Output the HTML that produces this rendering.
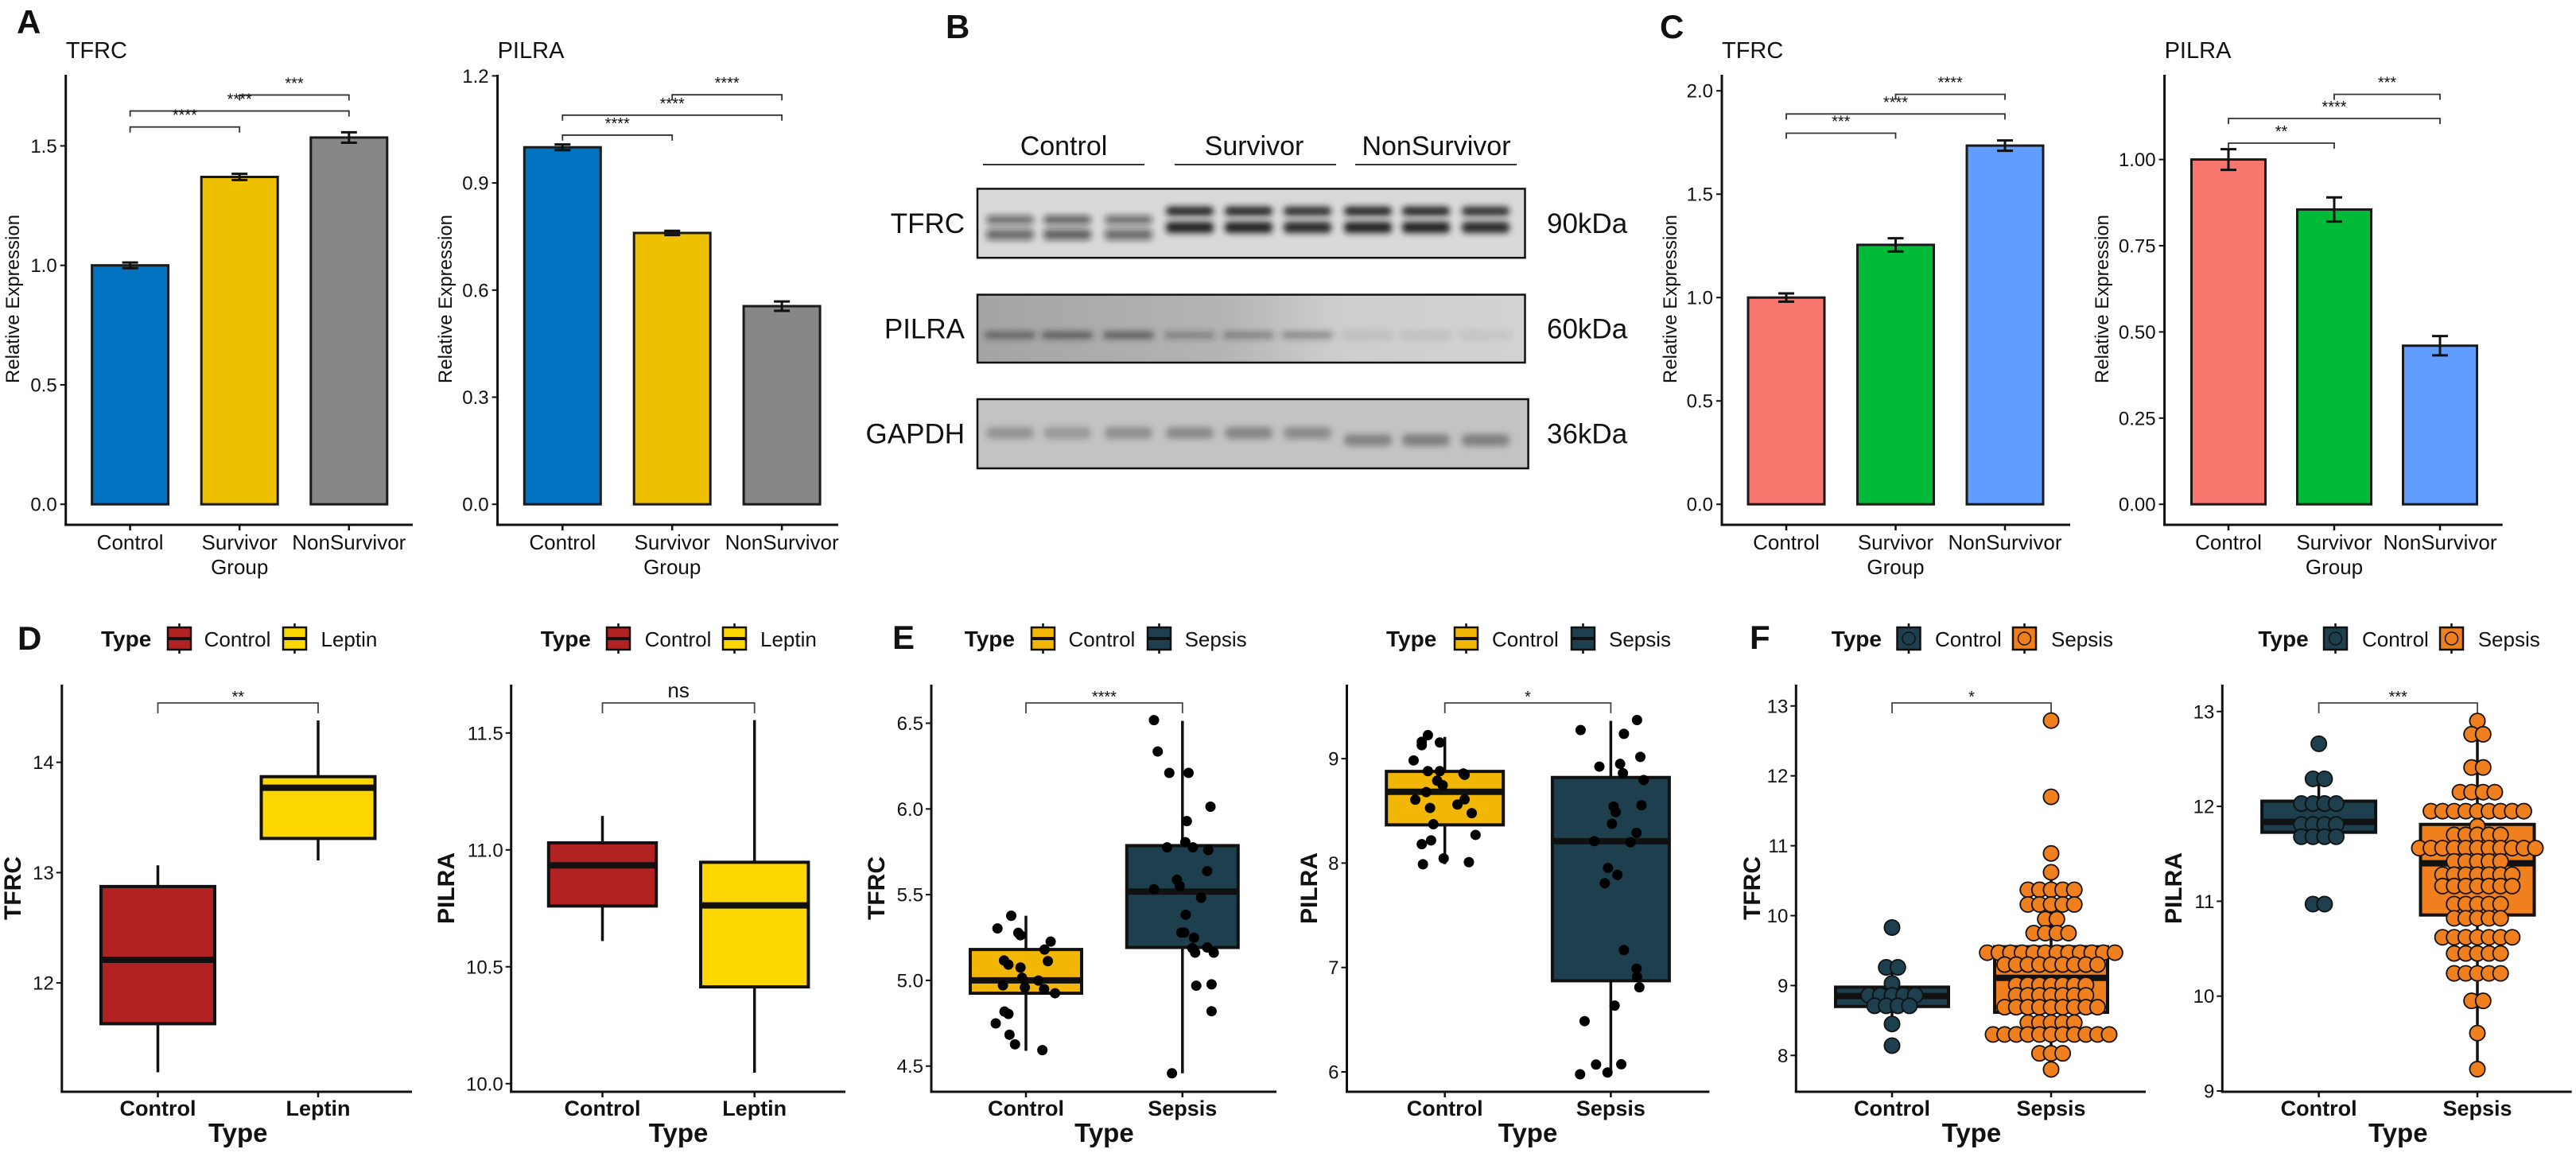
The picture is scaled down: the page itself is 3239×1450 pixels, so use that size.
<!DOCTYPE html>
<html><head><meta charset="utf-8">
<style>
body{margin:0;background:#fff}
svg{display:block}
text{font-family:"Liberation Sans",Arial,sans-serif;fill:#111}
</style></head>
<body>
<svg id="fig" width="3239" height="1450" viewBox="0 0 3239 1450" xmlns="http://www.w3.org/2000/svg">
<defs>
<filter id="blur" x="-30%" y="-100%" width="160%" height="300%"><feGaussianBlur stdDeviation="4"/></filter>
<linearGradient id="pilraBg" x1="0" x2="1" y1="0" y2="0"><stop offset="0" stop-color="#a4a4a4"/><stop offset="0.45" stop-color="#b4b4b4"/><stop offset="0.65" stop-color="#cdcdcd"/><stop offset="1" stop-color="#d2d2d2"/></linearGradient>
</defs>
<rect x="0" y="0" width="3239" height="1450" fill="#fff"/>
</svg>
<script>
// ---------- DATA ----------
const barCategories = ['Control','Survivor','NonSurvivor'];
const A_tfrc_values = [1.0, 1.37, 1.535];
const A_tfrc_err = [0.012, 0.013, 0.022];
const A_tfrc_ticks = [0, 0.5, 1.0, 1.5];
const A_tfrc_tickLabels = ['0.0','0.5','1.0','1.5'];
const A_tfrc_sigY = [1.579, 1.646, 1.713];
const A_tfrc_sig = ['****','****','***'];
const A_pilra_values = [1.0, 0.76, 0.555];
const A_pilra_err = [0.008, 0.006, 0.013];
const A_pilra_ticks = [0, 0.3, 0.6, 0.9, 1.2];
const A_pilra_tickLabels = ['0.0','0.3','0.6','0.9','1.2'];
const A_pilra_sigY = [1.034, 1.09, 1.147];
const A_pilra_sig = ['****','****','****'];
const C_tfrc_values = [1.0, 1.255, 1.735];
const C_tfrc_err = [0.02, 0.032, 0.025];
const C_tfrc_ticks = [0, 0.5, 1.0, 1.5, 2.0];
const C_tfrc_tickLabels = ['0.0','0.5','1.0','1.5','2.0'];
const C_tfrc_sigY = [1.795, 1.888, 1.983];
const C_tfrc_sig = ['***','****','****'];
const C_pilra_values = [1.0, 0.855, 0.46];
const C_pilra_err = [0.03, 0.035, 0.028];
const C_pilra_ticks = [0, 0.25, 0.5, 0.75, 1.0];
const C_pilra_tickLabels = ['0.00','0.25','0.50','0.75','1.00'];
const C_pilra_sigY = [1.0475, 1.119, 1.189];
const C_pilra_sig = ['**','****','***'];
const sigPairs = [[0,1],[0,2],[1,2]];

const D_categories = ['Control','Leptin'];
const D_tfrc_stats = [[11.19,11.63,12.21,12.874,13.066],[13.11,13.31,13.77,13.87,14.38]];
const D_tfrc_ticks = [12,13,14];
const D_pilra_stats = [[10.61,10.76,10.934,11.03,11.145],[10.047,10.414,10.7625,10.947,11.555]];
const D_pilra_ticks = [10.0,10.5,11.0,11.5];
const D_pilra_tickLabels = ['10.0','10.5','11.0','11.5'];

const ES_categories = ['Control','Sepsis'];
const E_tfrc_stats = [[4.589,4.925,5.0,5.18,5.377],[4.458,5.192,5.518,5.786,6.514]];
const E_tfrc_ticks = [4.5,5.0,5.5,6.0,6.5];
const E_tfrc_tickLabels = ['4.5','5.0','5.5','6.0','6.5'];
const E_tfrc_ctrl_vals = [5.377,5.303,5.277,5.263,5.226,5.180,5.116,5.092,5.075,5.112,5.015,4.999,4.971,4.959,4.949,4.925,4.818,4.804,4.749,4.683,4.627,4.593];
const E_tfrc_ctrl_jit = [-0.094,-0.182,-0.049,-0.035,0.158,0.119,-0.14,-0.112,-0.035,0.14,-0.025,0.08,-0.147,-0.007,0.116,0.186,-0.137,-0.112,-0.193,-0.105,-0.07,0.105];
const E_tfrc_seps_vals = [6.518,6.335,6.21,6.21,6.013,5.929,5.776,5.806,5.776,5.76,5.637,5.587,5.552,5.532,5.482,5.383,5.279,5.279,5.249,5.188,5.192,5.162,5.162,4.969,4.977,4.82,4.458];
const E_tfrc_seps_jit = [-0.182,-0.158,-0.084,0.039,0.179,0.028,-0.098,0.018,0.067,0.165,0.158,-0.035,-0.018,-0.182,0.119,0.021,-0.007,0.011,0.074,0.063,0.158,0.081,0.2,0.088,0.186,0.186,-0.067];
const E_pilra_stats = [[7.99,8.366,8.683,8.878,9.208],[5.977,6.873,8.21,8.82,9.363]];
const E_pilra_ticks = [6,7,8,9];
const E_pilra_ctrl_vals = [9.225,9.162,9.129,9.155,8.983,8.881,8.881,8.858,8.845,8.789,8.746,8.68,8.607,8.61,8.561,8.528,8.478,8.372,8.27,8.217,8.181,8.045,7.989,8.009];
const E_pilra_ctrl_jit = [-0.102,-0.139,-0.139,-0.03,-0.188,-0.102,-0.03,0.112,0.119,-0.046,-0.013,-0.112,-0.178,0.119,0.076,-0.089,0.162,-0.069,0.185,-0.083,-0.139,-0.007,-0.132,0.145];
const E_pilra_seps_vals = [9.274,9.37,9.238,9.017,8.924,8.95,8.861,8.795,8.541,8.488,8.554,8.376,8.29,8.21,8.2,7.953,7.887,7.807,7.167,6.988,6.909,6.81,6.635,6.486,6.07,6.073,5.977,5.994];
const E_pilra_seps_jit = [-0.182,0.158,0.079,0.178,-0.069,0.056,0.073,0.198,0.017,0.03,0.185,0.007,0.155,-0.099,0.119,-0.017,0.04,-0.036,0.079,0.155,0.158,0.172,0.023,-0.158,-0.089,0.063,-0.185,-0.02];

const F_tfrc_stats = [[8.46,8.70,8.85,8.977,9.26],[7.80,8.617,9.11,9.555,10.54]];
const F_tfrc_ticks = [8,9,10,11,12,13];
const F_tfrc_ctrl_rows = [9.83,9.26,9.03,8.86,8.71,8.45,8.14];
const F_tfrc_ctrl_counts = [1,2,1,5,4,1,1];
const F_tfrc_seps_rows = [12.79,11.70,10.89,10.62,10.37,10.16,9.95,9.75,9.47,9.30,9.01,8.86,8.69,8.47,8.30,8.03,7.80];
const F_tfrc_seps_counts = [1,1,1,1,5,5,2,4,12,9,7,7,9,5,11,3,1];
const F_pilra_stats = [[11.68,11.727,11.836,12.055,12.29],[9.23,10.855,11.40,11.81,12.90]];
const F_pilra_ticks = [9,10,11,12,13];
const F_pilra_ctrl_rows = [12.66,12.29,12.03,11.81,11.68,10.97];
const F_pilra_ctrl_counts = [1,2,4,4,4,2];
const F_pilra_seps_rows = [12.90,12.76,12.41,12.15,11.95,11.79,11.70,11.56,11.42,11.28,11.16,10.97,10.82,10.62,10.45,10.24,9.95,9.61,9.23];
const F_pilra_seps_counts = [1,2,2,4,9,1,5,11,5,7,7,5,5,7,5,5,2,1,1];

// ---------- HELPERS ----------
const NS = 'http://www.w3.org/2000/svg';
const svg = document.getElementById('fig');
function el(tag, attrs, name, parent){
  const e = document.createElementNS(NS, tag);
  for (const k in attrs) e.setAttribute(k, attrs[k]);
  
  
  (parent || svg).appendChild(e);
  return e;
}
function T(x, y, s, size, name, parent, o){
  o = o || {};
  const a = {x:x, y:y, 'font-size':size};
  if (o.anchor) a['text-anchor'] = o.anchor;
  if (o.bold) a['font-weight'] = 'bold';
  if (o.rot) a.transform = 'rotate(-90 ' + x + ' ' + y + ')';
  const t = el('text', a, name, parent);
  t.textContent = s;
  return t;
}
function L(x1,y1,x2,y2,w,name,parent,c){
  return el('line',{x1:x1,y1:y1,x2:x2,y2:y2,stroke:c||'#111','stroke-width':w},name,parent);
}

// ---------- BAR CHART ----------
function barChart(P, vals, errs, ticks, tickLabels, sigY, sig, colors, title, pre){
  const g = el('g', {}, pre + '-chart');
  const y = v => P.y0 - v * P.ppu;
  const x = i => P.c0 + i * P.step;
  T(P.ax, 73, title, 29, pre + '-title', g);
  L(P.ax, 94, P.ax, 661.5, 3, pre + '-y-axis', g);
  L(P.ax - 1.5, 660, P.right, 660, 3, pre + '-x-axis', g);
  ticks.forEach((t, i) => {
    L(P.ax - 7, y(t), P.ax, y(t), 2, pre + '-y-tick', g);
    T(P.ax - 11, y(t) + 8.5, tickLabels[i], 24, pre + '-y-tick-label', g, {anchor:'end'});
  });
  T(P.yt, 376, 'Relative Expression', 24, pre + '-y-axis-title', g, {anchor:'middle', rot:true});
  barCategories.forEach((c, i) => {
    const top = y(vals[i]);
    el('rect', {x:x(i)-P.bw/2, y:top, width:P.bw, height:y(0)-top, fill:colors[i], stroke:'#1a1a1a', 'stroke-width':3}, pre + '-bar-' + c.toLowerCase(), g);
    const e1 = y(vals[i] + errs[i]), e0 = y(vals[i] - errs[i]);
    L(x(i), e1, x(i), e0, 3, pre + '-error-bar', g);
    L(x(i)-10, e1, x(i)+10, e1, 3, pre + '-error-cap', g);
    L(x(i)-10, e0, x(i)+10, e0, 3, pre + '-error-cap', g);
    L(x(i), 660, x(i), 667, 2.5, pre + '-x-tick', g);
    T(x(i), 691, c, 26, pre + '-x-label', g, {anchor:'middle'});
  });
  T(x(1), 722, 'Group', 26, pre + '-x-axis-title', g, {anchor:'middle'});
  sigPairs.forEach((p, k) => {
    const by = y(sigY[k]);
    el('path', {d:'M'+x(p[0])+' '+(by+7)+'V'+by+'H'+x(p[1])+'V'+(by+7), fill:'none', stroke:'#333', 'stroke-width':1.8}, pre + '-sig-bracket', g);
    T((x(p[0])+x(p[1]))/2, by - 8 + 17, sig[k], 20, pre + '-sig-label', g, {anchor:'middle'}).setAttribute('dy', '-17');
  });
}
barChart({ax:82.7, right:519, y0:634.2, ppu:300.5, c0:163.6, step:137.6, bw:96, yt:24}, A_tfrc_values, A_tfrc_err, A_tfrc_ticks, A_tfrc_tickLabels, A_tfrc_sigY, A_tfrc_sig, ['#0072C0','#EEC000','#878787'], 'TFRC', 'a-tfrc');
barChart({ax:625.6, right:1054, y0:634.2, ppu:449, c0:707.3, step:137.9, bw:96, yt:568}, A_pilra_values, A_pilra_err, A_pilra_ticks, A_pilra_tickLabels, A_pilra_sigY, A_pilra_sig, ['#0072C0','#EEC000','#878787'], 'PILRA', 'a-pilra');
barChart({ax:2165, right:2603, y0:634.2, ppu:260, c0:2246, step:137.5, bw:96, yt:2108}, C_tfrc_values, C_tfrc_err, C_tfrc_ticks, C_tfrc_tickLabels, C_tfrc_sigY, C_tfrc_sig, ['#F8766D','#00BA38','#619CFF'], 'TFRC', 'c-tfrc');
barChart({ax:2721.6, right:3146.7, y0:634.2, ppu:433.6, c0:2802, step:133, bw:93, yt:2651}, C_pilra_values, C_pilra_err, C_pilra_ticks, C_pilra_tickLabels, C_pilra_sigY, C_pilra_sig, ['#F8766D','#00BA38','#619CFF'], 'PILRA', 'c-pilra');

// ---------- PANEL LETTERS ----------
[['A',21,42],['B',1189,48],['C',2087,48],['D',22,817],['E',1122,816],['F',2200,816]].forEach(p => {
  T(p[1], p[2], p[0], 42, 'panel-label-' + p[0].toLowerCase(), svg, {bold:true});
});

// ---------- WESTERN BLOT ----------
const blotLanes = [1270,1342,1419,1496,1570,1644,1720,1793,1868];
const tfrcBandDark = [0.55,0.6,0.55,0.95,0.95,0.9,0.95,0.95,0.9];
const pilraBandDark = [0.55,0.6,0.6,0.35,0.38,0.38,0.12,0.12,0.1];
const gapdhBandDark = [0.35,0.3,0.38,0.42,0.45,0.42,0.48,0.5,0.5];
(function(){
  const g = el('g', {}, 'western-blot');
  [['Control',1337.5,1236,1439],['Survivor',1577,1477,1680],['NonSurvivor',1806,1704,1907]].forEach(h => {
    T(h[1], 195, h[0], 34, 'blot-group-label', g, {anchor:'middle'});
    L(h[2], 207, h[3], 207, 2, 'blot-group-underline', g, '#333');
  });
  const rows = [['TFRC','90kDa',237.4,324.2,1917.5,'#d9d9d9'],['PILRA','60kDa',370.6,456,1917.5,'url(#pilraBg)'],['GAPDH','36kDa',502,589,1921.6,'#c3c3c3']];
  rows.forEach(r => {
    const mid = (r[2]+r[3])/2;
    T(1213, mid + 12, r[0], 35, 'blot-' + r[0].toLowerCase() + '-label', g, {anchor:'end'});
    T(1945, mid + 12, r[1], 35, 'blot-' + r[0].toLowerCase() + '-weight', g);
    el('rect', {x:1229, y:r[2], width:r[4]-1229, height:r[3]-r[2], fill:r[5]}, 'blot-' + r[0].toLowerCase() + '-membrane', g);
  });
  blotLanes.forEach((cx, i) => {
    const ctrl = i < 3;
    const c = 'rgba(20,20,20,' + tfrcBandDark[i] + ')';
    el('rect', {x:cx-30, y:ctrl?271:260, width:60, height:11, rx:5, fill:c, filter:'url(#blur)'}, 'tfrc-band-upper', g);
    el('rect', {x:cx-30, y:ctrl?288:279, width:60, height:14, rx:5, fill:c, filter:'url(#blur)'}, 'tfrc-band-lower', g);
    el('rect', {x:cx-32, y:417, width:64, height:9, rx:4, fill:'rgba(40,40,40,' + pilraBandDark[i] + ')', filter:'url(#blur)'}, 'pilra-band', g);
    el('rect', {x:cx-30, y:i<6?537:546, width:60, height:15, rx:7, fill:'rgba(60,60,60,' + gapdhBandDark[i] + ')', filter:'url(#blur)'}, 'gapdh-band', g);
  });
  rows.forEach(r => {
    el('rect', {x:1229, y:r[2], width:r[4]-1229, height:r[3]-r[2], fill:'none', stroke:'#111', 'stroke-width':2.5}, 'blot-' + r[0].toLowerCase() + '-frame', g);
  });
})();

// ---------- BOX PLOTS ----------
function legend(pos, colors, labels, dot, pre){
  const g = el('g', {}, pre + '-legend');
  T(pos[0], 813, 'Type', 28, pre + '-legend-title', g, {bold:true});
  [[pos[1],pos[2]],[pos[3],pos[4]]].forEach((k, i) => {
    L(k[0]+14.5, 784, k[0]+14.5, 822, 2.5, pre + '-legend-key-whisker', g);
    el('rect', {x:k[0], y:789, width:29, height:28, fill:colors[i], stroke:'#111', 'stroke-width':2.5}, pre + '-legend-key', g);
    if (dot) el('circle', {cx:k[0]+14.5, cy:803, r:8, fill:colors[i], stroke:'#111', 'stroke-width':1.5}, pre + '-legend-key-dot', g);
    else L(k[0], 803, k[0]+29, 803, 4, pre + '-legend-key-median', g);
    T(k[1], 813, labels[i], 26, pre + '-legend-label', g);
  });
}
function boxChart(P, cats, stats, ticks, tickLabels, colors, ytitle, sig, pre){
  const g = el('g', {}, pre + '-chart');
  const y = v => P.y0 - (v - P.v0) * P.ppu;
  L(P.ax, 861, P.ax, 1374.5, 3, pre + '-y-axis', g);
  L(P.ax - 1.5, 1373, P.right, 1373, 3, pre + '-x-axis', g);
  ticks.forEach((t, i) => {
    L(P.ax - 7, y(t), P.ax, y(t), 2, pre + '-y-tick', g);
    T(P.ax - 10, y(t) + 8.5, tickLabels[i], 24, pre + '-y-tick-label', g, {anchor:'end'});
  });
  T(P.yt, 1117, ytitle, 30, pre + '-y-axis-title', g, {anchor:'middle', rot:true, bold:true});
  cats.forEach((c, i) => {
    const cx = P.c[i], s = stats[i];
    L(cx, y(s[0]), cx, y(s[4]), 3.5, pre + '-whisker-' + c.toLowerCase(), g);
    el('rect', {x:cx-P.hw, y:y(s[3]), width:2*P.hw, height:y(s[1])-y(s[3]), fill:colors[i], stroke:'#111', 'stroke-width':4}, pre + '-box-' + c.toLowerCase(), g);
    L(cx-P.hw, y(s[2]), cx+P.hw, y(s[2]), 8, pre + '-median-' + c.toLowerCase(), g);
    L(cx, 1373, cx, 1380, 2.5, pre + '-x-tick', g);
    T(cx, 1403, c, 27, pre + '-x-label', g, {anchor:'middle', bold:true});
  });
  const mx = (P.c[0]+P.c[1])/2;
  T(mx, 1436, 'Type', 33, pre + '-x-axis-title', g, {anchor:'middle', bold:true});
  el('path', {d:'M'+P.c[0]+' 897V884H'+P.c[1]+'V897', fill:'none', stroke:'#444', 'stroke-width':1.8}, pre + '-sig-bracket', g);
  if (sig === 'ns') T(mx, 877, sig, 26, pre + '-sig-label', g, {anchor:'middle'});
  else T(mx, 883, sig, 20, pre + '-sig-label', g, {anchor:'middle'});
  return {g:g, y:y};
}
function jitterPoints(C, P, idx, vals, jit, step, pre){
  vals.forEach((v, i) => {
    el('circle', {cx:P.c[idx] + jit[i]*step, cy:C.y(v), r:6.5, fill:'#000'}, pre + '-point', C.g);
  });
}
function dotRows(C, P, idx, rows, counts, color, pre){
  rows.forEach((v, i) => {
    const n = counts[i];
    for (let k = 0; k < n; k++) {
      el('circle', {cx:P.c[idx] + (k - (n-1)/2)*14.6, cy:C.y(v), r:9.6, fill:color, stroke:'#111', 'stroke-width':1.8}, pre + '-dot', C.g);
    }
  });
}

// Panel D
legend([127,211,256.6,356,403.5], ['#B22222','#FFD700'], D_categories, false, 'd-tfrc');
legend([679.7,763,810.6,909,956], ['#B22222','#FFD700'], D_categories, false, 'd-pilra');
const PD1 = {ax:77.8, right:518, v0:14, y0:958.7, ppu:138.7, c:[198.5,400], hw:71.5, yt:26};
boxChart(PD1, D_categories, D_tfrc_stats, D_tfrc_ticks, ['12','13','14'], ['#B22222','#FFD700'], 'TFRC', '**', 'd-tfrc');
const PD2 = {ax:642.7, right:1063, v0:10, y0:1362.8, ppu:294, c:[757.5,948.7], hw:67.7, yt:571};
boxChart(PD2, D_categories, D_pilra_stats, D_pilra_ticks, D_pilra_tickLabels, ['#B22222','#FFD700'], 'PILRA', 'ns', 'd-pilra');

// Panel E
legend([1212.7,1297,1343.5,1443,1489.6], ['#F2B705','#1D3F4E'], ES_categories, false, 'e-tfrc');
legend([1743,1829,1876,1976,2023], ['#F2B705','#1D3F4E'], ES_categories, false, 'e-pilra');
const PE1 = {ax:1171, right:1605, v0:4.5, y0:1340.7, ppu:215.6, c:[1290,1486.8], hw:70, yt:1112};
const CE1 = boxChart(PE1, ES_categories, E_tfrc_stats, E_tfrc_ticks, E_tfrc_tickLabels, ['#F2B705','#1D3F4E'], 'TFRC', '****', 'e-tfrc');
jitterPoints(CE1, PE1, 0, E_tfrc_ctrl_vals, E_tfrc_ctrl_jit, 196.8, 'e-tfrc-control');
jitterPoints(CE1, PE1, 1, E_tfrc_seps_vals, E_tfrc_seps_jit, 196.8, 'e-tfrc-sepsis');
const PE2 = {ax:1693.5, right:2149.4, v0:6, y0:1348, ppu:131.3, c:[1816.7,2025.4], hw:73.5, yt:1656};
const CE2 = boxChart(PE2, ES_categories, E_pilra_stats, E_pilra_ticks, ['6','7','8','9'], ['#F2B705','#1D3F4E'], 'PILRA', '*', 'e-pilra');
jitterPoints(CE2, PE2, 0, E_pilra_ctrl_vals, E_pilra_ctrl_jit, 208.7, 'e-pilra-control');
jitterPoints(CE2, PE2, 1, E_pilra_seps_vals, E_pilra_seps_jit, 208.7, 'e-pilra-sepsis');

// Panel F
legend([2302.7,2385.5,2433,2531,2579], ['#1D3F4E','#F07F1E'], ES_categories, true, 'f-tfrc');
legend([2839.4,2922,2970,3068,3115.7], ['#1D3F4E','#F07F1E'], ES_categories, true, 'f-pilra');
const PF1 = {ax:2258.3, right:2698, v0:8, y0:1327.3, ppu:87.9, c:[2379,2579], hw:71, yt:2213};
const CF1 = boxChart(PF1, ES_categories, F_tfrc_stats, F_tfrc_ticks, ['8','9','10','11','12','13'], ['#1D3F4E','#F07F1E'], 'TFRC', '*', 'f-tfrc');
dotRows(CF1, PF1, 0, F_tfrc_ctrl_rows, F_tfrc_ctrl_counts, '#1D3F4E', 'f-tfrc-control');
dotRows(CF1, PF1, 1, F_tfrc_seps_rows, F_tfrc_seps_counts, '#F07F1E', 'f-tfrc-sepsis');
const PF2 = {ax:2794.3, right:3233.7, v0:9, y0:1372, ppu:119.3, c:[2915.6,3115], hw:71.5, yt:2743};
const CF2 = boxChart(PF2, ES_categories, F_pilra_stats, F_pilra_ticks, ['9','10','11','12','13'], ['#1D3F4E','#F07F1E'], 'PILRA', '***', 'f-pilra');
dotRows(CF2, PF2, 0, F_pilra_ctrl_rows, F_pilra_ctrl_counts, '#1D3F4E', 'f-pilra-control');
dotRows(CF2, PF2, 1, F_pilra_seps_rows, F_pilra_seps_counts, '#F07F1E', 'f-pilra-sepsis');
</script>
</body></html>
